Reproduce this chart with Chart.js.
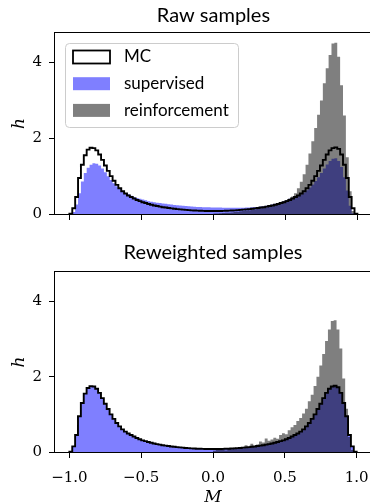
<!DOCTYPE html>
<html>
<head>
<meta charset="utf-8">
<script src="https://cdn.jsdelivr.net/npm/chart.js@4/dist/chart.umd.min.js"></script>
<style>
	html, body { margin: 0; padding: 0; background: #fff; overflow: hidden; }
	#wrap { position: relative; width: 370px; height: 502px; overflow: hidden; }
	canvas { position: absolute; left: 0; }
	#raw { top: 0; }
	#rew { top: 240px; }
</style>
</head>
<body>
<div id="wrap">
	<canvas id="raw" width="380" height="240"></canvas>
	<canvas id="rew" width="380" height="280"></canvas>
</div>
<script>
// histogram bins: 100 bins of width 0.02 from M = -1 to 1
const binStart = -1
const binWidth = 0.02

const mcHist = [
	0.01, 0.15, 0.45, 0.95, 1.30, 1.55, 1.70, 1.75, 1.74, 1.68,
	1.57, 1.43, 1.28, 1.14, 1.00, 0.88, 0.77, 0.68, 0.60, 0.54,
	0.49, 0.45, 0.41, 0.37, 0.34, 0.31, 0.29, 0.265, 0.245, 0.225,
	0.21, 0.195, 0.18, 0.17, 0.158, 0.148, 0.138, 0.13, 0.122, 0.115,
	0.108, 0.102, 0.097, 0.092, 0.088, 0.085, 0.082, 0.08, 0.079, 0.078,
	0.078, 0.079, 0.08, 0.082, 0.085, 0.088, 0.092, 0.097, 0.102, 0.108,
	0.115, 0.122, 0.13, 0.138, 0.148, 0.158, 0.17, 0.18, 0.195, 0.21,
	0.225, 0.245, 0.265, 0.29, 0.31, 0.34, 0.37, 0.41, 0.45, 0.49,
	0.54, 0.60, 0.68, 0.77, 0.88, 1.00, 1.14, 1.28, 1.43, 1.57,
	1.68, 1.74, 1.76, 1.72, 1.57, 1.30, 0.95, 0.45, 0.15, 0.01,
]

const supervisedRaw = [
	0, 0.05, 0.25, 0.55, 0.86, 1.08, 1.22, 1.30, 1.34, 1.33,
	1.28, 1.20, 1.10, 1.00, 0.90, 0.81, 0.73, 0.66, 0.60, 0.55,
	0.52, 0.48, 0.45, 0.42, 0.40, 0.38, 0.36, 0.34, 0.325, 0.31,
	0.30, 0.29, 0.28, 0.27, 0.26, 0.25, 0.24, 0.232, 0.225, 0.218,
	0.21, 0.203, 0.197, 0.19, 0.186, 0.182, 0.179, 0.177, 0.175, 0.174,
	0.174, 0.172, 0.17, 0.168, 0.167, 0.166, 0.165, 0.165, 0.165, 0.166,
	0.168, 0.17, 0.173, 0.177, 0.182, 0.188, 0.195, 0.205, 0.218, 0.232,
	0.25, 0.27, 0.29, 0.315, 0.34, 0.37, 0.40, 0.43, 0.46, 0.49,
	0.52, 0.57, 0.63, 0.70, 0.78, 0.87, 0.97, 1.08, 1.20, 1.31,
	1.40, 1.46, 1.47, 1.40, 1.24, 0.97, 0.62, 0.22, 0.02, 0,
]

const reinforcementRaw = [
	0, 0, 0, 0, 0, 0, 0, 0, 0, 0,
	0, 0, 0, 0, 0, 0, 0, 0, 0, 0,
	0, 0, 0, 0, 0, 0, 0, 0, 0, 0,
	0, 0, 0, 0, 0, 0, 0, 0, 0, 0,
	0, 0, 0, 0, 0, 0, 0, 0, 0, 0,
	0.01, 0.015, 0.02, 0.025, 0.03, 0.035, 0.04, 0.05, 0.06, 0.07,
	0.08, 0.09, 0.10, 0.11, 0.12, 0.135, 0.15, 0.165, 0.18, 0.20,
	0.22, 0.245, 0.27, 0.30, 0.34, 0.37, 0.41, 0.46, 0.55, 0.68,
	0.85, 1.05, 1.30, 1.60, 1.92, 2.27, 2.62, 3.00, 3.45, 3.85,
	4.20, 4.50, 4.52, 4.15, 3.40, 2.60, 1.50, 0.60, 0.08, 0,
]

const supervisedRew = [
	0.01, 0.15, 0.45, 0.95, 1.30, 1.55, 1.70, 1.75, 1.74, 1.68,
	1.57, 1.43, 1.28, 1.14, 1.00, 0.88, 0.77, 0.68, 0.60, 0.54,
	0.49, 0.45, 0.41, 0.37, 0.34, 0.31, 0.29, 0.265, 0.245, 0.225,
	0.21, 0.195, 0.18, 0.17, 0.158, 0.148, 0.138, 0.13, 0.122, 0.115,
	0.108, 0.102, 0.097, 0.092, 0.088, 0.085, 0.082, 0.08, 0.079, 0.078,
	0.078, 0.079, 0.08, 0.082, 0.085, 0.088, 0.092, 0.097, 0.102, 0.108,
	0.115, 0.122, 0.13, 0.138, 0.148, 0.158, 0.17, 0.18, 0.195, 0.21,
	0.225, 0.245, 0.265, 0.29, 0.31, 0.34, 0.37, 0.41, 0.45, 0.49,
	0.54, 0.60, 0.68, 0.77, 0.88, 1.00, 1.14, 1.28, 1.43, 1.57,
	1.68, 1.74, 1.76, 1.72, 1.57, 1.30, 0.95, 0.45, 0.15, 0.01,
]

const reinforcementRew = [
	0, 0, 0, 0, 0, 0, 0, 0, 0, 0,
	0, 0, 0, 0, 0, 0, 0, 0, 0, 0,
	0, 0, 0, 0, 0, 0, 0, 0, 0, 0,
	0, 0, 0, 0, 0, 0, 0, 0, 0, 0,
	0, 0, 0, 0, 0, 0, 0, 0, 0, 0,
	0.03, 0.06, 0.05, 0.09, 0.04, 0.10, 0.07, 0.12, 0.08, 0.13,
	0.10, 0.18, 0.12, 0.22, 0.15, 0.20, 0.28, 0.25, 0.36, 0.30,
	0.33, 0.38, 0.35, 0.45, 0.50, 0.47, 0.58, 0.66, 0.72, 0.82,
	0.90, 1.02, 1.15, 1.35, 1.52, 1.75, 2.00, 2.30, 2.60, 2.95,
	3.25, 3.48, 3.50, 3.25, 2.75, 1.95, 1.15, 0.40, 0.05, 0,
]

const seriesLabels = ['MC', 'supervised', 'reinforcement']
const xTicks = [-1, -0.5, 0, 0.5, 1]
const yTicks = [0, 2, 4]

const tickFont = { family: 'DejaVu Serif', size: 15 }
const labelFont = { family: 'DejaVu Serif', size: 17, style: 'italic' }
const sansFamily = 'Lato'

// bin edges + heights -> points for a stepped line
const toSteps = hist => {
	const pts = [{ x: binStart, y: 0 }]
	hist.forEach((h, i) => pts.push({ x: binStart + i * binWidth, y: h }))
	pts.push({ x: binStart + hist.length * binWidth, y: 0 })
	return pts
}

const fmtTick = v => v.toFixed(1).replace('-', '\u2212')

// black frame round the plot area, like matplotlib spines
const framePlugin = {
	id: 'frame',
	afterDatasetsDraw(chart) {
		const { ctx, chartArea: a } = chart
		ctx.save()
		ctx.strokeStyle = '#000'
		ctx.lineWidth = 1
		ctx.strokeRect(Math.round(a.left) - 0.5, Math.round(a.top) - 0.5, Math.round(a.right - a.left) + 1, Math.round(a.bottom - a.top) + 1)
		ctx.restore()
	},
}

// legend box inside the axes (upper left)
const boxLegend = {
	id: 'boxLegend',
	afterDraw(chart) {
		const { ctx } = chart
		const ds = chart.data.datasets
		const x = 65, y = 43, w = 173, h = 84, r = 4
		ctx.save()
		ctx.beginPath()
		ctx.roundRect(x + 0.5, y + 0.5, w, h, r)
		ctx.fillStyle = 'rgba(255,255,255,0.8)'
		ctx.fill()
		ctx.strokeStyle = '#cccccc'
		ctx.lineWidth = 1
		ctx.stroke()
		ctx.font = '17px ' + sansFamily
		ctx.textBaseline = 'middle'
		ctx.fillStyle = '#000'
		ds.forEach((d, i) => {
			const cy = 57 + i * 26.7
			if (d.fill) {
				ctx.fillStyle = d.backgroundColor
				ctx.fillRect(73, cy - 6.5, 37, 13)
			} else {
				ctx.fillStyle = '#fff'
				ctx.fillRect(73, cy - 6.5, 37, 13)
				ctx.strokeStyle = d.borderColor
				ctx.lineWidth = 1.8
				ctx.strokeRect(73, cy - 6.5, 37, 13)
			}
			ctx.fillStyle = '#000'
			ctx.fillText(d.label, 124, cy)
		})
		ctx.restore()
	},
}

const makeChart = (id, title, supHist, rlHist, opts) => {
	const ctx = document.getElementById(id).getContext('2d')
	return new Chart(ctx, {
		type: 'line',
		data: {
			datasets: [
				{
					label: seriesLabels[0],
					data: toSteps(mcHist),
					stepped: true,
					fill: false,
					borderColor: '#000',
					borderWidth: 1.9,
					pointRadius: 0,
					order: 0,
				},
				{
					label: seriesLabels[1],
					data: toSteps(supHist),
					stepped: true,
					fill: 'origin',
					backgroundColor: 'rgba(0,0,255,0.5)',
					borderColor: 'rgba(0,0,0,0)',
					borderWidth: 0,
					pointRadius: 0,
					order: 2,
				},
				{
					label: seriesLabels[2],
					data: toSteps(rlHist),
					stepped: true,
					fill: 'origin',
					backgroundColor: 'rgba(0,0,0,0.5)',
					borderColor: 'rgba(0,0,0,0)',
					borderWidth: 0,
					pointRadius: 0,
					order: 1,
				},
			],
		},
		options: {
			responsive: false,
			animation: false,
			layout: { padding: { left: 0, right: 8.2, top: 0, bottom: 0 } },
			plugins: {
				legend: { display: false },
				tooltip: { enabled: false },
				title: {
					display: true,
					fullSize: false,
					text: title,
					color: '#000',
					font: { family: sansFamily, size: 20, weight: 'normal', lineHeight: 1.2 },
					padding: opts.titlePad,
				},
			},
			scales: {
				x: {
					type: 'linear',
					min: -1.1,
					max: 1.1,
					afterBuildTicks: s => { s.ticks = xTicks.map(v => ({ value: v })) },
					afterFit: s => { s.height = opts.xHeight },
					grid: { drawOnChartArea: false, drawTicks: true, tickLength: 6, color: '#000' },
					border: { display: false },
					ticks: {
						display: opts.showX,
						color: '#000',
						font: tickFont,
						padding: 11,
						maxRotation: 0,
						autoSkip: false,
						callback: v => fmtTick(v),
					},
					title: {
						display: opts.showX,
						text: 'M',
						color: '#000',
						font: labelFont,
						padding: { top: 0, bottom: 12 },
					},
				},
				y: {
					min: 0,
					max: 4.78,
					afterBuildTicks: s => { s.ticks = yTicks.map(v => ({ value: v })) },
					afterFit: s => { s.width = 55 },
					grid: { drawOnChartArea: false, drawTicks: true, tickLength: 6, color: '#000' },
					border: { display: false },
					ticks: { color: '#000', font: tickFont, padding: 7, callback: v => String(v) },
					title: {
						display: true,
						text: 'h',
						color: '#000',
						font: labelFont,
						padding: { top: 9, bottom: 0 },
					},
				},
			},
		},
		plugins: opts.legend ? [framePlugin, boxLegend] : [framePlugin],
	})
}

makeChart('raw', 'Raw samples', supervisedRaw, reinforcementRaw, {
	titlePad: { top: 3.5, bottom: 5.5 },
	xHeight: 26,
	showX: false,
	legend: true,
})

makeChart('rew', 'Reweighted samples', supervisedRew, reinforcementRew, {
	titlePad: { top: 1, bottom: 7 },
	xHeight: 68,
	showX: true,
	legend: false,
})
</script>
</body>
</html>
